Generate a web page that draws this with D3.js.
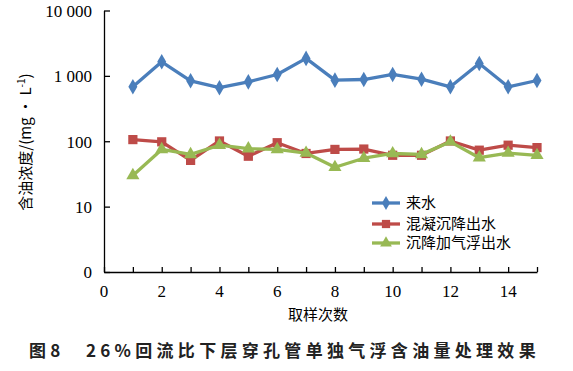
<!DOCTYPE html>
<html>
<head>
<meta charset="utf-8">
<script src="https://cdn.jsdelivr.net/npm/d3@7"></script>
<style>
  body { margin: 0; background: #fff; }
  svg { display: block; }
</style>
</head>
<body>
<div id="chart"></div>
<script>
// data
var samples = [1, 2, 3, 4, 5, 6, 7, 8, 9, 10, 11, 12, 13, 14, 15]
var inflow = [680, 1640, 840, 660, 810, 1050, 1850, 860, 880, 1050, 890, 680, 1550, 680, 850]
var coagSettle = [106, 98, 51, 101, 59, 95, 65, 75, 76, 61, 61, 101, 73, 87, 80]
var settleFloat = [30, 75, 63, 87, 77, 75, 66, 40, 55, 65, 63, 98, 56, 66, 61]
var seriesNames = ['来水', '混凝沉降出水', '沉降加气浮出水']
var xTicks = [0, 1, 2, 3, 4, 5, 6, 7, 8, 9, 10, 11, 12, 13, 14, 15]
var xLabels = [0, 2, 4, 6, 8, 10, 12, 14]
var yTicks = [1, 10, 100, 1000, 10000]
var yLabels = ['0', '10', '100', '1 000', '10 000']

var W = 573, H = 371
var serif = '"Liberation Serif", "Times New Roman", "DejaVu Serif", serif'
var cjk = '"Noto Sans CJK SC", sans-serif'

var svg = d3.select('#chart').append('svg')
  .attr('width', W).attr('height', H)

var x = d3.scaleLinear().domain([0, 15]).range([104, 537])
var y = d3.scaleLog().domain([1, 10000]).range([272, 10.5])

// axes
var xAxis = svg.append('g')
  .attr('transform', 'translate(0,' + y(1) + ')')
  .call(d3.axisBottom(x).tickValues(xTicks).tickSizeInner(-5).tickSizeOuter(0).tickFormat(''))
xAxis.select('.domain').attr('stroke', '#000').attr('stroke-width', 1.3)
xAxis.selectAll('.tick line').attr('stroke', '#000').attr('stroke-width', 1.3)

xLabels.forEach(function(v) {
  svg.append('text')
    .attr('x', x(v)).attr('y', 297)
    .attr('text-anchor', 'middle')
    .attr('font-family', serif).attr('font-size', 17)
    .text(v)
})

var yAxis = svg.append('g')
  .attr('transform', 'translate(' + x(0) + ',0)')
  .call(d3.axisLeft(y).tickValues(yTicks).tickSizeInner(-6).tickSizeOuter(0)
    .tickFormat(function(d, i) { return yLabels[i] }))
yAxis.attr('font-family', serif).attr('font-size', 17)
yAxis.select('.domain').attr('stroke', '#000').attr('stroke-width', 1.3)
yAxis.selectAll('.tick line').attr('stroke', '#000').attr('stroke-width', 1.3)
yAxis.selectAll('.tick text')
  .attr('x', -12).attr('dy', '0.35em').attr('fill', '#000')

// axis titles
svg.append('text')
  .attr('transform', 'translate(31,142) rotate(-90)')
  .attr('text-anchor', 'middle')
  .style('font-family', cjk).style('font-size', '15px')
  .html('含油浓度/(mg • L<tspan dy="-6" font-size="10">-1</tspan><tspan dy="6">)</tspan>')

svg.append('text')
  .attr('x', 318).attr('y', 320)
  .attr('text-anchor', 'middle')
  .style('font-family', cjk).style('font-size', '15px')
  .text('取样次数')

// series
var colors = ['#4a7ebb', '#be4b48', '#98b954']
var allSeries = [inflow, coagSettle, settleFloat]
var shapes = [d3.symbolDiamond, d3.symbolSquare, d3.symbolTriangle]
var sizes = [70, 85, 75]

var line = d3.line()
  .x(function(d, i) { return x(samples[i]) })
  .y(function(d) { return y(d) })

allSeries.forEach(function(s, k) {
  svg.append('path')
    .attr('d', line(s))
    .attr('fill', 'none')
    .attr('stroke', colors[k])
    .attr('stroke-width', 3.3)
    .attr('stroke-linejoin', 'round')
  svg.selectAll('.m' + k)
    .data(s).enter().append('path')
    .attr('class', 'm' + k)
    .attr('transform', function(d, i) { return 'translate(' + x(samples[i]) + ',' + y(d) + ')' })
    .attr('d', d3.symbol().type(shapes[k]).size(sizes[k]))
    .attr('fill', colors[k])
})

// legend
var legendY = [203, 224, 243]
seriesNames.forEach(function(n, k) {
  var g = svg.append('g')
  g.append('line')
    .attr('x1', 372).attr('x2', 400)
    .attr('y1', legendY[k]).attr('y2', legendY[k])
    .attr('stroke', colors[k]).attr('stroke-width', 3.3)
  g.append('path')
    .attr('transform', 'translate(386,' + legendY[k] + ')')
    .attr('d', d3.symbol().type(shapes[k]).size(sizes[k] * 0.8))
    .attr('fill', colors[k])
  g.append('text')
    .attr('x', 406).attr('y', legendY[k])
    .attr('dy', '0.36em')
    .style('font-family', cjk).style('font-size', '15px')
    .text(n)
})

// caption
svg.append('text')
  .attr('x', 29).attr('y', 357)
  .style('font-family', cjk).style('font-size', '17px')
  .style('font-weight', 'bold').style('letter-spacing', '4.3px')
  .attr('fill', '#222')
  .text('图8　26%回流比下层穿孔管单独气浮含油量处理效果')
</script>
</body>
</html>
